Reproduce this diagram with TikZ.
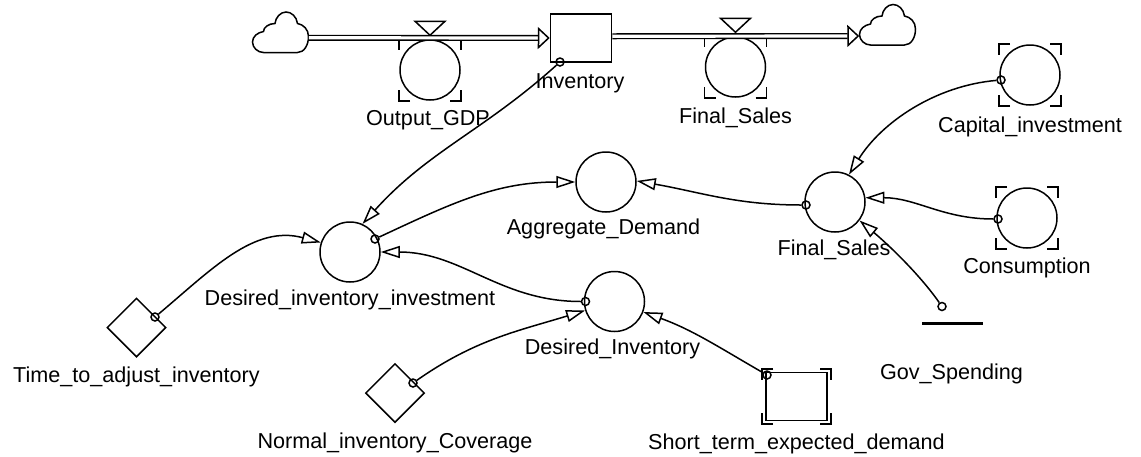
\documentclass[tikz,border=0pt]{standalone}
\usepackage{fontspec}
\setmainfont{Liberation Sans}
\usetikzlibrary{arrows.meta,positioning,calc,shapes.geometric}

% corner marks round a ghosted or converter node
\newcommand{\brackets}[3]{
\foreach \sx in {-1,1} \foreach \sy in {-1,1}
\draw ($(#1)+(\sx*#2-\sx*11,\sy*#3)$) -- ($(#1)+(\sx*#2,\sy*#3)$) -- ($(#1)+(\sx*#2,\sy*#3-\sy*11)$);
}
\newcommand{\cloudpath}{(-17,-20) -- (17,-20) .. controls (24,-20) and (28,-12) .. (28,-4) .. controls (28,3) and (23,8) .. (17,9) .. controls (16,16) and (11,20.5) .. (5.5,20.5) .. controls (0,20.5) and (-5,15) .. (-5.5,9) .. controls (-12,9) and (-17,5) .. (-17,1) .. controls (-23,0) and (-28,-4) .. (-28,-9.5) .. controls (-28,-15) and (-23,-20) .. (-17,-20) -- cycle}
\newcommand{\valve}[1]{
\draw ($(#1.north)+(-15,18)$) -- ($(#1.north)+(15,18)$) -- ($(#1.north)+(0,4)$) -- cycle;
}

\begin{document}
\begin{tikzpicture}[x=1pt,y=1pt,line width=1.5pt,node distance=100pt,font=\fontsize{21.6}{26}\selectfont]

\tikzstyle{stock}=[rectangle,draw,minimum width=61pt,minimum height=48pt,inner sep=0pt]
\tikzstyle{aux}=[circle,draw,minimum size=60pt,inner sep=0pt]
\tikzstyle{constant}=[diamond,draw,minimum width=59pt,minimum height=59pt,inner sep=0pt,aspect=1]
\tikzstyle{linkdot}=[circle,draw,minimum size=8pt,inner sep=0pt]
\tikzstyle{cloudbox}=[rectangle,minimum width=55pt,minimum height=41pt,inner sep=0pt]
\tikzstyle{tag}=[text height=19pt,text depth=5pt,inner sep=0pt]
\tikzstyle{link}=[-{Triangle[fill=white,length=19pt,width=12pt]}]
\tikzstyle{flow}=[double,double distance=3.2pt,line width=1.4pt,-{Triangle[fill=white,length=12pt,width=22pt,line width=1.5pt]}]

\useasboundingbox (0,0) rectangle (1141,-456);

%stocks and rates
\node[stock] (inventory) at (581,-38) {};

\node[aux] (outputgdp) [left of=inventory, xshift=-51pt, yshift=-32pt] {};

\node[aux] (finalflow) [right of=inventory, xshift=54.5pt, yshift=-29pt] {};

\node[cloudbox] (cloudl) [left of=outputgdp, xshift=-49.5pt, yshift=37.5pt] {};

\node[cloudbox] (cloudr) [right of=finalflow, xshift=52pt, yshift=42pt] {};

%auxiliaries
\node[aux] (capital) [right of=inventory, xshift=349pt, yshift=-37pt] {};

\node[aux] (consumption) [below of=capital, xshift=-3pt, yshift=-43pt] {};

\node[aux] (finalaux) [left of=consumption, xshift=-92pt, yshift=16pt] {};

\node[aux] (aggregate) [left of=finalaux, xshift=-129pt, yshift=20pt] {};

\node[aux] (desinvest) [left of=aggregate, xshift=-156pt, yshift=-70pt] {};

\node[aux] (desired) [below of=aggregate, xshift=8.5pt, yshift=-19.5pt] {};

\node[constant] (timeadj) [left of=desinvest, xshift=-113.5pt, yshift=-75.5pt] {};

\node[constant] (normal) [left of=desired, xshift=-119.5pt, yshift=-91.5pt] {};

\node[stock] (shortterm) [right of=desired, xshift=82pt, yshift=-95pt] {};

\node[minimum width=59pt,inner sep=0pt] (govline) [right of=finalaux, xshift=17.5pt, yshift=-121.5pt] {};

%labels
\node[tag,node distance=48pt] (loutput) [below of=outputgdp, xshift=-2pt] {Output\_GDP};
\node[tag,node distance=43pt] (linventory) [below of=inventory, xshift=-1pt] {Inventory};
\node[tag,node distance=49pt] (lfinalflow) [below of=finalflow] {Final\_Sales};
\node[tag,node distance=50pt] (lcapital) [below of=capital] {Capital\_investment};
\node[tag,node distance=48pt] (lconsumption) [below of=consumption] {Consumption};
\node[tag,node distance=46pt] (lfinalaux) [below of=finalaux, xshift=-1pt] {Final\_Sales};
\node[tag,node distance=45pt] (laggregate) [below of=aggregate, xshift=-2.5pt] {Aggregate\_Demand};
\node[tag,node distance=46pt] (ldesinvest) [below of=desinvest] {Desired\_inventory\_investment};
\node[tag,node distance=46pt] (ldesired) [below of=desired, xshift=-2pt] {Desired\_Inventory};
\node[tag,node distance=48pt] (ltimeadj) [below of=timeadj] {Time\_to\_adjust\_inventory};
\node[tag,node distance=48pt] (lnormal) [below of=normal] {Normal\_inventory\_Coverage};
\node[tag,node distance=46pt] (lshort) [below of=shortterm] {Short\_term\_expected\_demand};
\node[tag,node distance=49pt] (lgov) [below of=govline, xshift=-1pt] {Gov\_Spending};

%dots where links leave
\node[linkdot,node distance=24pt] (invdot) [below of=inventory, xshift=-21pt] {};
\node[linkdot,node distance=29pt] (capdot) [left of=capital, yshift=-5pt] {};
\node[linkdot,node distance=29pt] (consdot) [left of=consumption, yshift=-1pt] {};
\node[linkdot,node distance=29pt] (finaldot) [left of=finalaux, yshift=-3pt] {};
\node[linkdot,node distance=25pt] (desdot) [right of=desinvest, yshift=13pt] {};
\node[linkdot,node distance=29pt] (desireddot) [left of=desired] {};
\node[linkdot,node distance=18.5pt] (timedot) [right of=timeadj, yshift=10.5pt] {};
\node[linkdot,node distance=18pt] (normdot) [right of=normal, yshift=10pt] {};
\node[linkdot,node distance=29.5pt] (shortdot) [left of=shortterm, yshift=21.5pt] {};
\node[linkdot,node distance=17pt] (govdot) [above of=govline, xshift=-10.5pt] {};

\draw[shift={(cloudl)}] \cloudpath;
\draw[shift={(cloudr)}] \cloudpath;

\valve{outputgdp}
\valve{finalflow}

\brackets{outputgdp}{31}{31}
\brackets{finalflow}{31}{31}
\brackets{capital}{31}{31}
\brackets{consumption}{31}{31}
\brackets{shortterm}{34.5}{27.5}

\draw[line width=2.2pt] (govline.west) -- (govline.east);

\draw[flow] ([yshift=-5.25pt]cloudl.east) -- (inventory.west);
\draw[flow] ([yshift=1.75pt]inventory.east) -- ([yshift=-11pt]cloudr.west);

\path[link] (invdot) edge[out=222,in=48] (desinvest.66);
\path[link] (capdot) edge[out=185,in=58,looseness=0.9] (finalaux.63);
\path[link] (consdot) edge[out=180,in=0] (finalaux.8);
\path[link] (govdot) edge[out=125,in=-40,looseness=0.8] (finalaux.-37);
\path[link] (finaldot) edge[out=180,in=-10] (aggregate.2);
\path[link] (desdot) edge[out=25,in=180] (aggregate.180);
\path[link] (desireddot) edge[out=180,in=0] (desinvest.0);
\path[link] (timedot) edge[out=40,in=165] (desinvest.162);
\path[link] (normdot) edge[out=35,in=197] (desired.197);
\path[link] (shortdot) edge[out=150,in=-20] (desired.-20);

\end{tikzpicture}
\end{document}
